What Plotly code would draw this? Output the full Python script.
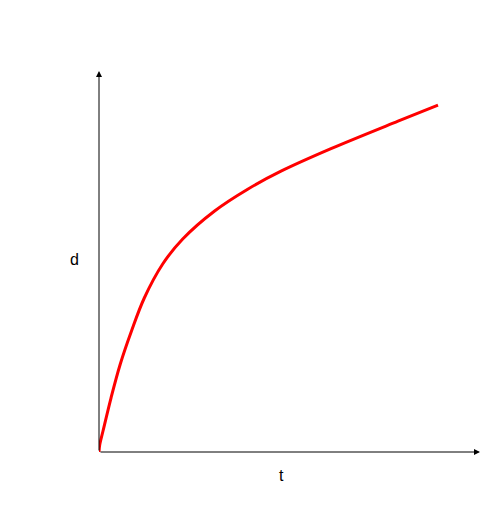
import plotly.graph_objects as go

t_vals = [0, 0.018, 0.105, 0.315, 0.559, 0.853, 1.189, 1.672, 2.197, 3.026, 3.903,
          4.777, 6.089, 7.848, 8.898]
d_vals = [0, 0.184, 0.551, 1.417, 2.310, 3.176, 4.042, 4.934, 5.591, 6.320, 6.898,
          7.370, 7.961, 8.682, 9.102]
x_label = "t"
y_label = "d"

fig = go.Figure()
fig.add_trace(go.Scatter(x=t_vals, y=d_vals, mode="lines",
                         line=dict(color="red", width=3, shape="spline", smoothing=1.0),
                         hoverinfo="skip", showlegend=False))

axis_common = dict(visible=False, range=[0, 10], showgrid=False, zeroline=False, fixedrange=True)
fig.update_layout(
    width=499, height=511,
    margin=dict(l=91, r=27, t=63, b=67),
    paper_bgcolor="white", plot_bgcolor="white",
    xaxis=axis_common, yaxis=axis_common,
    font=dict(family="Liberation Sans, Arial, sans-serif", size=16, color="black"),
    annotations=[
        dict(x=10, y=0, ax=0, ay=0, xref="x", yref="y", axref="x", ayref="y",
             showarrow=True, arrowhead=2, arrowsize=1.2, arrowwidth=1, arrowcolor="black",
             text="", standoff=0, startstandoff=0),
        dict(x=0, y=10, ax=0, ay=0, xref="x", yref="y", axref="x", ayref="y",
             showarrow=True, arrowhead=2, arrowsize=1.2, arrowwidth=1, arrowcolor="black",
             text="", standoff=0, startstandoff=0),
        dict(x=-0.0656, y=0.504, xref="paper", yref="paper", text=y_label, showarrow=False,
             xanchor="center", yanchor="middle"),
        dict(x=0.478, y=-0.0604, xref="paper", yref="paper", text=x_label, showarrow=False,
             xanchor="center", yanchor="middle"),
    ],
)
fig.write_html("out.html")
